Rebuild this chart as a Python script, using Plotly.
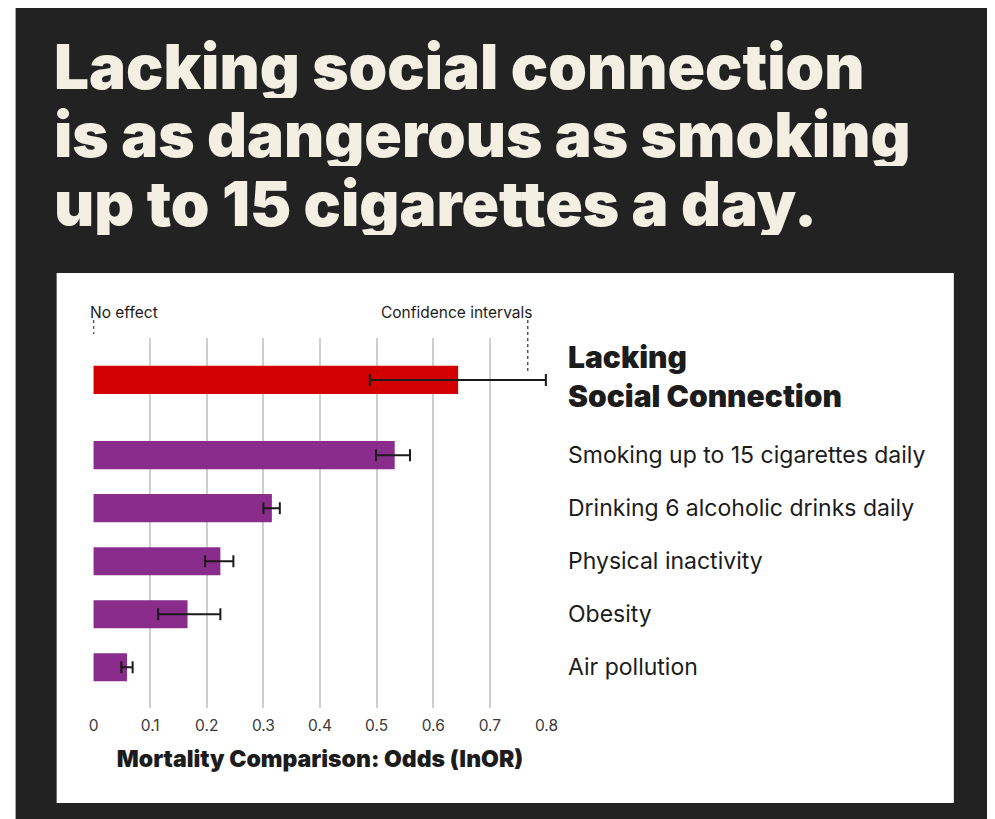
import plotly.graph_objects as go

# ---- data ----
top_category = ["Lacking Social Connection"]
top_value = [0.644]
top_low = [0.488]
top_high = [0.799]

categories = [
    "Smoking up to 15 cigarettes daily",
    "Drinking 6 alcoholic drinks daily",
    "Physical inactivity",
    "Obesity",
    "Air pollution",
]
values = [0.532, 0.315, 0.224, 0.166, 0.059]
ci_low = [0.499, 0.300, 0.197, 0.114, 0.049]
ci_high = [0.559, 0.329, 0.247, 0.224, 0.069]

tick_values = [0, 0.1, 0.2, 0.3, 0.4, 0.5, 0.6, 0.7, 0.8]
tick_labels = ["0", "0.1", "0.2", "0.3", "0.4", "0.5", "0.6", "0.7", "0.8"]

title_lines = [
    "Lacking social connection",
    "is as dangerous as smoking",
    "up to 15 cigarettes a day.",
]
x_title = "Mortality Comparison: Odds (lnOR)"

# ---- layout geometry (pixels, in the 995x819 screenshot frame) ----
OFF = 8                    # page body margin
W, H = 995, 819
L, R_PX = 93.3, 546.7      # plot area left/right
T_PX, B_PX = 338, 708      # plot area top/bottom
PW = R_PX - L
PH = B_PX - T_PX
SPLIT = 417                # boundary between the two stacked bands


def px2x(px):
    return (px - L) / PW


def py2y(py):
    return (B_PX - py) / PH


DARK = "#222222"
CREAM = "#f3efe2"
RED = "#d30000"
PURPLE = "#8a2c8c"
TEXT = "#1c1c1c"
FONT = "Inter"

fig = go.Figure()

fig.add_trace(go.Bar(
    y=top_category, x=top_value, orientation="h",
    marker=dict(color=RED, line=dict(width=0)),
    width=0.53,
    error_x=dict(type="data", symmetric=False,
                 array=[h - v for h, v in zip(top_high, top_value)],
                 arrayminus=[v - l for v, l in zip(top_value, top_low)],
                 color="#1a1a1a", thickness=2, width=6),
    xaxis="x", yaxis="y", showlegend=False, hoverinfo="skip",
))

fig.add_trace(go.Bar(
    y=categories, x=values, orientation="h",
    marker=dict(color=PURPLE, line=dict(width=0)),
    width=0.53,
    error_x=dict(type="data", symmetric=False,
                 array=[h - v for h, v in zip(ci_high, values)],
                 arrayminus=[v - l for v, l in zip(values, ci_low)],
                 color="#1a1a1a", thickness=2, width=6),
    xaxis="x", yaxis="y2", showlegend=False, hoverinfo="skip",
))

split_frac = py2y(SPLIT)

shapes = [
    # dark background
    dict(type="rect", xref="paper", yref="paper", layer="below",
         x0=px2x(16), x1=px2x(988), y0=py2y(830), y1=py2y(3),
         fillcolor=DARK, line=dict(width=0)),
    # white panel
    dict(type="rect", xref="paper", yref="paper", layer="below",
         x0=px2x(57), x1=px2x(953), y0=py2y(803), y1=py2y(273),
         fillcolor="#ffffff", line=dict(width=0)),
    # dotted leader lines
    dict(type="line", xref="x", yref="paper", x0=0, x1=0,
         y0=py2y(320), y1=py2y(334),
         line=dict(color="#555555", width=1.5, dash="dot")),
    dict(type="line", xref="x", yref="paper", x0=0.767, x1=0.767,
         y0=py2y(320), y1=py2y(371),
         line=dict(color="#555555", width=1.5, dash="dot")),
]

annotations = []
title_centers = [65.5, 134, 202.5]
for line, cy in zip(title_lines, title_centers):
    annotations.append(dict(
        text=line, xref="paper", yref="paper",
        x=px2x(52), y=py2y(cy), xanchor="left", yanchor="middle",
        height=64, valign="middle",
        showarrow=False,
        font=dict(family=FONT, size=62, color=CREAM, weight=900),
    ))

annotations.append(dict(
    text="No effect", xref="paper", yref="paper",
    x=px2x(88), y=py2y(312), xanchor="left", yanchor="middle",
    showarrow=False, font=dict(family=FONT, size=15.5, color=TEXT)))
annotations.append(dict(
    text="Confidence intervals", xref="paper", yref="paper",
    x=px2x(534), y=py2y(312), xanchor="right", yanchor="middle",
    showarrow=False, font=dict(family=FONT, size=15.5, color=TEXT)))

# right-side labels
annotations.append(dict(
    text="Lacking<br>Social Connection", xref="paper", yref="y",
    x=px2x(566), y=top_category[0], xanchor="left", yanchor="middle",
    align="left", showarrow=False, yshift=3,
    font=dict(family=FONT, size=30, color=TEXT, weight=900)))
for c in categories:
    annotations.append(dict(
        text=c, xref="paper", yref="y2",
        x=px2x(566), y=c, xanchor="left", yanchor="middle",
        showarrow=False,
        font=dict(family=FONT, size=23, color=TEXT)))

fig.update_layout(
    width=W - OFF, height=H - OFF, autosize=False,
    margin=dict(l=L - OFF, r=W - R_PX, t=T_PX - OFF, b=H - B_PX, pad=0),
    paper_bgcolor="#ffffff",
    plot_bgcolor="rgba(0,0,0,0)",
    bargap=0.47,
    xaxis=dict(
        range=[-0.001, 0.801], anchor="y2",
        tickmode="array", tickvals=tick_values, ticktext=tick_labels,
        showgrid=True, gridcolor="#cfcfcf", gridwidth=1.5,
        zeroline=False, showline=False, ticks="",
        ticklabelstandoff=6,
        tickfont=dict(family=FONT, size=15.5, color="#3a3a3a"),
        title=dict(text=x_title, standoff=17,
                   font=dict(family=FONT, size=23, color=TEXT, weight=900)),
        fixedrange=True,
    ),
    yaxis=dict(
        domain=[split_frac, 1], anchor="x",
        range=[-0.70, 0.79], showticklabels=False, showgrid=False,
        zeroline=False, ticks="", fixedrange=True,
    ),
    yaxis2=dict(
        domain=[0, split_frac], anchor="x",
        range=[4.77, -0.72], showticklabels=False, showgrid=False,
        zeroline=False, ticks="", fixedrange=True,
    ),
    shapes=shapes,
    annotations=annotations,
)

fig.write_html("out.html")
